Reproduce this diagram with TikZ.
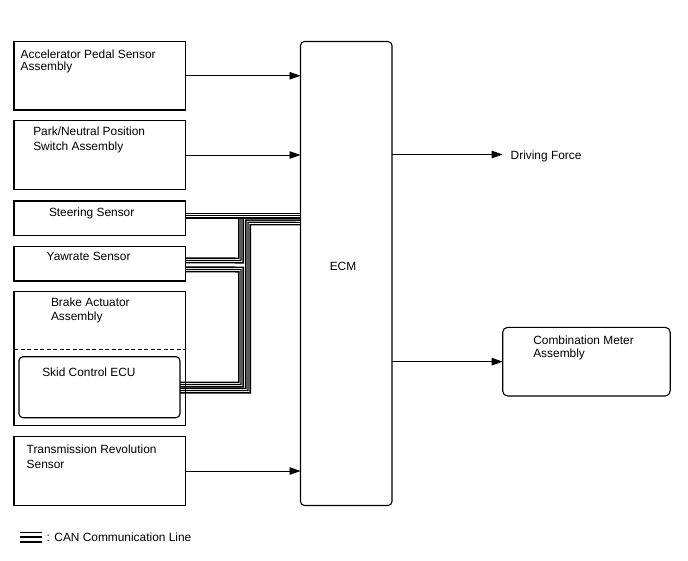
\documentclass[tikz,border=0pt]{standalone}
\usepackage{fontspec}
\setmainfont{Liberation Sans}
\usetikzlibrary{arrows.meta}
\pgfdeclarelayer{background}
\pgfsetlayers{background,main}
\begin{document}
\begin{tikzpicture}[x=1pt,y=-1pt,
  box/.style={draw, line width=1.1pt, rectangle, anchor=north west, inner sep=0pt, outer sep=0pt},
  rbox/.style={box, rounded corners=4pt},
  lbl/.style={anchor=north west, inner sep=0pt, outer sep=0pt, align=left, font=\fontsize{11.9}{14.8}\selectfont},
  arr/.style={line width=0.9pt, -{Triangle[length=11pt,width=7.5pt]}},
  can/.style={line width=6pt, postaction={draw=white, line width=2.9pt}, postaction={draw=black, line width=1.2pt}},
  legline/.style={line width=#1},
]
\useasboundingbox (0,0) rectangle (688,560);
\begin{pgfonlayer}{background}
\fill[white] (0,0) rectangle (688,560);
\end{pgfonlayer}

% boxes
\node[box, minimum width=171.5pt, minimum height=68.5pt] (acc) at (14,41.5) {};
\node[box, minimum width=171.5pt, minimum height=68.6pt] (park) at (14,120.7) {};
\node[box, minimum width=171.5pt, minimum height=34.7pt] (steer) at (14,201) {};
\node[box, minimum width=171.5pt, minimum height=34.3pt] (yaw) at (14,246.7) {};
\node[box, minimum width=171.5pt, minimum height=134pt] (brake) at (14,291.7) {};
\node[rbox, minimum width=161pt, minimum height=61pt] (skid) at (19,356.7) {};
\node[box, minimum width=171.5pt, minimum height=68.6pt] (trans) at (14,436.7) {};
\node[rbox, minimum width=91.5pt, minimum height=464pt] (ecm) at (300.5,41.5) {};
\node[rbox, rounded corners=5pt, minimum width=167.5pt, minimum height=68.7pt] (cm) at (502.7,327.3) {};

\coordinate (dl) at (14,349.3);
\draw[line width=1.1pt, dash pattern=on 4pt off 2.5pt] (dl) -- (dl -| brake.east);

% labels
\node[lbl, font=\fontsize{11.9}{11.7}\selectfont] (tacc) at (20.7,50) {Accelerator Pedal Sensor\\Assembly};
\node[lbl] (tpark) at (33.3,127.3) {Park/Neutral Position\\Switch Assembly};
\node[lbl] (tsteer) at (49,207.7) {Steering Sensor};
\node[lbl] (tyaw) at (46.7,252) {Yawrate Sensor};
\node[lbl, font=\fontsize{11.9}{14.6}\selectfont] (tbrake) at (51,297.7) {Brake Actuator\\Assembly};
\node[lbl] (tskid) at (42.3,368.3) {Skid Control ECU};
\node[lbl] (ttrans) at (26.7,445) {Transmission Revolution\\Sensor};
\node[lbl, font=\fontsize{11.9}{13.3}\selectfont] (tcm) at (533.3,336) {Combination Meter\\Assembly};
\node[lbl] (tdf) at (510.7,150.7) {Driving Force};
\node[lbl, anchor=center] (tecm) at (343,266) {ECM};
\node[lbl] (tleg) at (46.7,533.3) {: CAN Communication Line};

% arrows
\draw[arr] (acc.east) -- (ecm.west |- acc.east);
\draw[arr] (park.east) -- (ecm.west |- park.east);
\draw[arr] (trans.east) -- (ecm.west |- trans.east);
\coordinate (dfend) at (502.7,154.5);
\draw[arr] (ecm.east |- dfend) -- (dfend);
\draw[arr] (ecm.east |- cm.west) -- (cm.west);

% CAN lines
\begin{pgfonlayer}{background}
\draw[can] ([yshift=3.4pt]yaw.east) -- (241,260.5) -- (241,216);
\draw[can] ([yshift=-5.6pt]yaw.east) -- (241,269.5) -- (241,384.5) -- ([yshift=2.7pt]skid.east);
\draw[can] ([yshift=-4pt]steer.west -| ecm.west) -- (248,222.3) -- (248,390.5) -- ([yshift=-3.3pt]skid.east);
\draw[can] ([yshift=2.5pt]steer.east) -- ([yshift=2.5pt]steer.east -| ecm.west);
\end{pgfonlayer}

% legend symbol
\coordinate (la) at (20,532.8); \coordinate (lb) at (41.7,532.8);
\coordinate (lc) at (20,536.9); \coordinate (ld) at (41.7,536.9);
\coordinate (le) at (20,542);   \coordinate (lf) at (41.7,542);
\draw[legline=1.3pt] (la) -- (lb);
\draw[legline=1.5pt] (lc) -- (ld);
\draw[legline=2.8pt] (le) -- (lf);
\end{tikzpicture}
\end{document}
